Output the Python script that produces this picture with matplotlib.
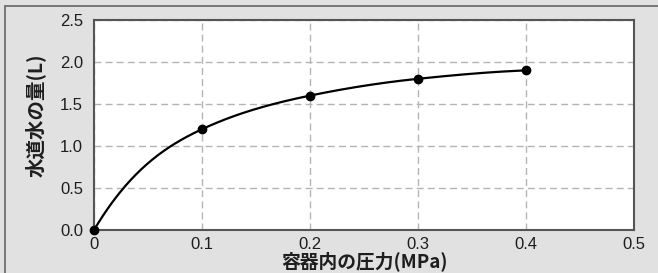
import numpy as np
import matplotlib
matplotlib.use("Agg")
import matplotlib.pyplot as plt
from matplotlib.patches import Rectangle

# data
pressure = [0.0, 0.1, 0.2, 0.3, 0.4]
water = [0.0, 1.2, 1.6, 1.8, 1.9]
xticks = [0, 0.1, 0.2, 0.3, 0.4, 0.5]
xticklabels = ["0", "0.1", "0.2", "0.3", "0.4", "0.5"]
yticks = [0.0, 0.5, 1.0, 1.5, 2.0, 2.5]
yticklabels = ["0.0", "0.5", "1.0", "1.5", "2.0", "2.5"]

def smooth(x, y, xs, start_gain=1.8):
    # cubic hermite, only used to draw a smooth line between the points
    x = np.asarray(x, float); y = np.asarray(y, float)
    h = np.diff(x); d = np.diff(y) / h
    m = np.zeros_like(y)
    for k in range(1, len(x) - 1):
        if d[k-1] * d[k] > 0:
            w1 = 2*h[k] + h[k-1]; w2 = h[k] + 2*h[k-1]
            m[k] = (w1 + w2) / (w1/d[k-1] + w2/d[k])
    m[0] = start_gain * d[0]
    m[-1] = ((2*h[-1] + h[-2])*d[-1] - h[-1]*d[-2]) / (h[-1] + h[-2])
    out = []
    for v in xs:
        k = min(np.searchsorted(x, v, side="right") - 1, len(x) - 2)
        t = (v - x[k]) / h[k]
        out.append((2*t**3 - 3*t**2 + 1)*y[k] + (t**3 - 2*t**2 + t)*h[k]*m[k]
                   + (-2*t**3 + 3*t**2)*y[k+1] + (t**3 - t**2)*h[k]*m[k+1])
    return np.array(out)

jp = ["Noto Sans CJK JP", "DejaVu Sans"]
num = ["Liberation Sans", "DejaVu Sans"]

fig = plt.figure(figsize=(6.58, 2.73), dpi=100, facecolor="#e1e1e1")
fig.patches.append(Rectangle((4.5/658, -0.1), 1.1, 1.1 - 6.5/273, transform=fig.transFigure,
                             fill=False, edgecolor="#6e6e6e", linewidth=1.3))
ax = fig.add_axes([94/658, 1 - 230/273, 540/658, 210/273])
ax.set_facecolor("white")

xs = np.linspace(pressure[0], pressure[-1], 400)
ax.plot(xs, smooth(pressure, water, xs), color="black", lw=1.6, zorder=3)
ax.plot(pressure, water, "o", color="black", ms=6, zorder=4, clip_on=False)

ax.set_xlim(0, 0.5)
ax.set_ylim(0, 2.5)
ax.set_xticks(xticks)
ax.set_xticklabels(xticklabels, family=num, fontsize=12)
ax.set_yticks(yticks)
ax.set_yticklabels(yticklabels, family=num, fontsize=12)
ax.tick_params(length=0, colors="#1e1e1e")
ax.tick_params(axis="x", pad=5)
ax.tick_params(axis="y", pad=8)
ax.grid(True, color="#b4b4b4", linestyle=(0, (5, 3)), linewidth=1)
ax.set_axisbelow(True)
for s in ax.spines.values():
    s.set_color("#555555")
    s.set_linewidth(1.5)

ax.set_xlabel("容器内の圧力(MPa)", family=jp, fontsize=13.5, fontweight="bold", color="#1e1e1e")
ax.xaxis.set_label_coords(0.5, -0.102)
ax.set_ylabel("水道水の量(L)", family=jp, fontsize=14, fontweight="bold", color="#1e1e1e")
ax.yaxis.set_label_coords(-0.09, 0.548)

fig.savefig("out.png", dpi=100, facecolor=fig.get_facecolor())
